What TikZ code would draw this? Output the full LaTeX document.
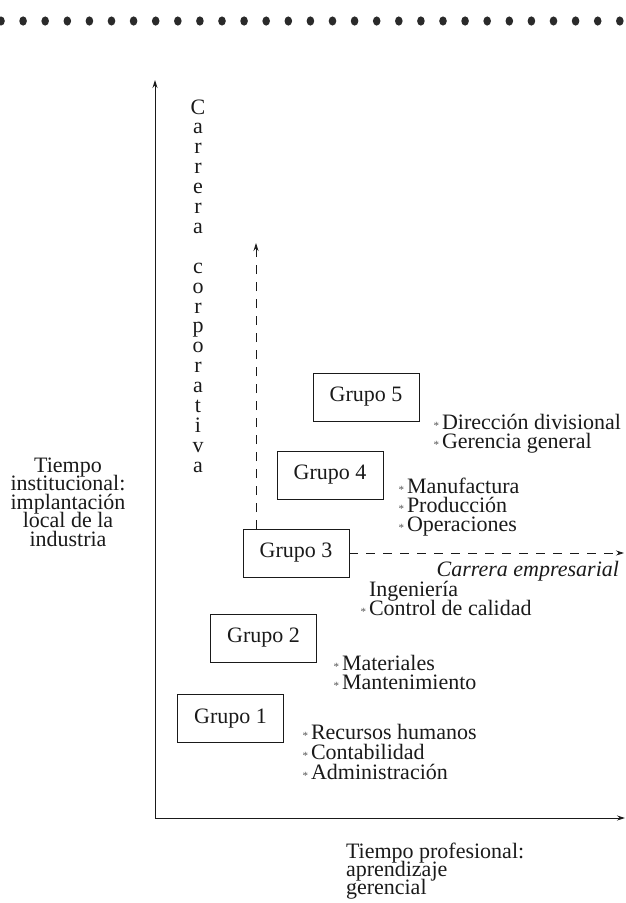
\documentclass[tikz,border=0pt]{standalone}
\usepackage{fontspec}
\setmainfont{Liberation Serif}
\usetikzlibrary{arrows.meta}
\definecolor{ink}{HTML}{1A1A1A}
\definecolor{dotc}{HTML}{2A2A2A}
\newcommand{\bmark}{\llap{\textcolor{ink!75}{\fontsize{11}{11}\selectfont *}\hspace{3pt}}}
\begin{document}
\begin{tikzpicture}[x=1pt,y=-1pt,
  every node/.style={inner sep=0pt,outer sep=0pt,text=ink,font=\fontsize{22}{19.5}\selectfont},
  grp/.style={draw=ink,line width=0.8pt,minimum width=106pt,minimum height=48pt},
  item/.style={anchor=base west},
  cline/.style={anchor=base},
  tip/.style={-{Stealth[length=8pt,width=5pt]}},
  axisline/.style={draw=ink,line width=0.9pt,tip},
  dasharrow/.style={draw=ink,line width=0.8pt,dash pattern=on 9pt off 8pt,tip}]
\useasboundingbox (0,0) rectangle (626,903);
% top dotted rule
\foreach \i in {0,...,28} \fill[dotc] (1+22.1*\i,21) ellipse [x radius=3.8pt, y radius=4.6pt];
% axes
\coordinate (O) at (155,818);
\coordinate (ytip) at (155,80);
\coordinate (xtip) at (625,818);
\draw[axisline] (O) -- (ytip);
\draw[axisline] (O) -- (xtip);
% vertical text
\foreach \k/\l in {0/C,1/a,2/r,3/r,4/e,5/r,6/a,8/c,9/o,10/r,11/p,12/o,13/r,14/a,15/t,16/i,17/v,18/a}
  \node[cline] (v\k) at (198,114+19.9*\k) {\l};
% groups
\node[grp] (g5) at (366,397) {Grupo 5};
\node[grp] (g4) at (330,475) {Grupo 4};
\node[grp] (g3) at (296,553) {Grupo 3};
\node[grp] (g2) at (263.5,638) {Grupo 2};
\node[grp] (g1) at (230.5,718.5) {Grupo 1};
% career arrows
\coordinate (ctop) at (256,243);
\coordinate (eend) at (624,553);
\draw[dasharrow] (g3.north -| ctop) -- (ctop);
\draw[dasharrow] (g3.east) -- (eend);
\node[anchor=base east] (ce) at (619,576) {\itshape Carrera empresarial};
% items
\node[item] (i51) at (442,429) {\bmark Dirección divisional};
\node[item] (i52) at (442,448) {\bmark Gerencia general};
\node[item] (i41) at (407,493) {\bmark Manufactura};
\node[item] (i42) at (407,512) {\bmark Producción};
\node[item] (i43) at (407,531) {\bmark Operaciones};
\node[item] (i31) at (369,596) {Ingeniería};
\node[item] (i32) at (369,615) {\bmark Control de calidad};
\node[item] (i21) at (342,670) {\bmark Materiales};
\node[item] (i22) at (342,689) {\bmark Mantenimiento};
\node[item] (i11) at (311,739) {\bmark Recursos humanos};
\node[item] (i12) at (311,759) {\bmark Contabilidad};
\node[item] (i13) at (311,779) {\bmark Administración};
% axis labels
\foreach \k/\t in {0/Tiempo,1/institucional:,2/implantación,3/local de la,4/industria}
  \node[cline] (yl\k) at (68,472+18.5*\k) {\t};
\foreach \k/\t in {0/Tiempo profesional:,1/aprendizaje,2/gerencial}
  \node[item] (xl\k) at (346,858+18*\k) {\t};
\end{tikzpicture}
\end{document}
